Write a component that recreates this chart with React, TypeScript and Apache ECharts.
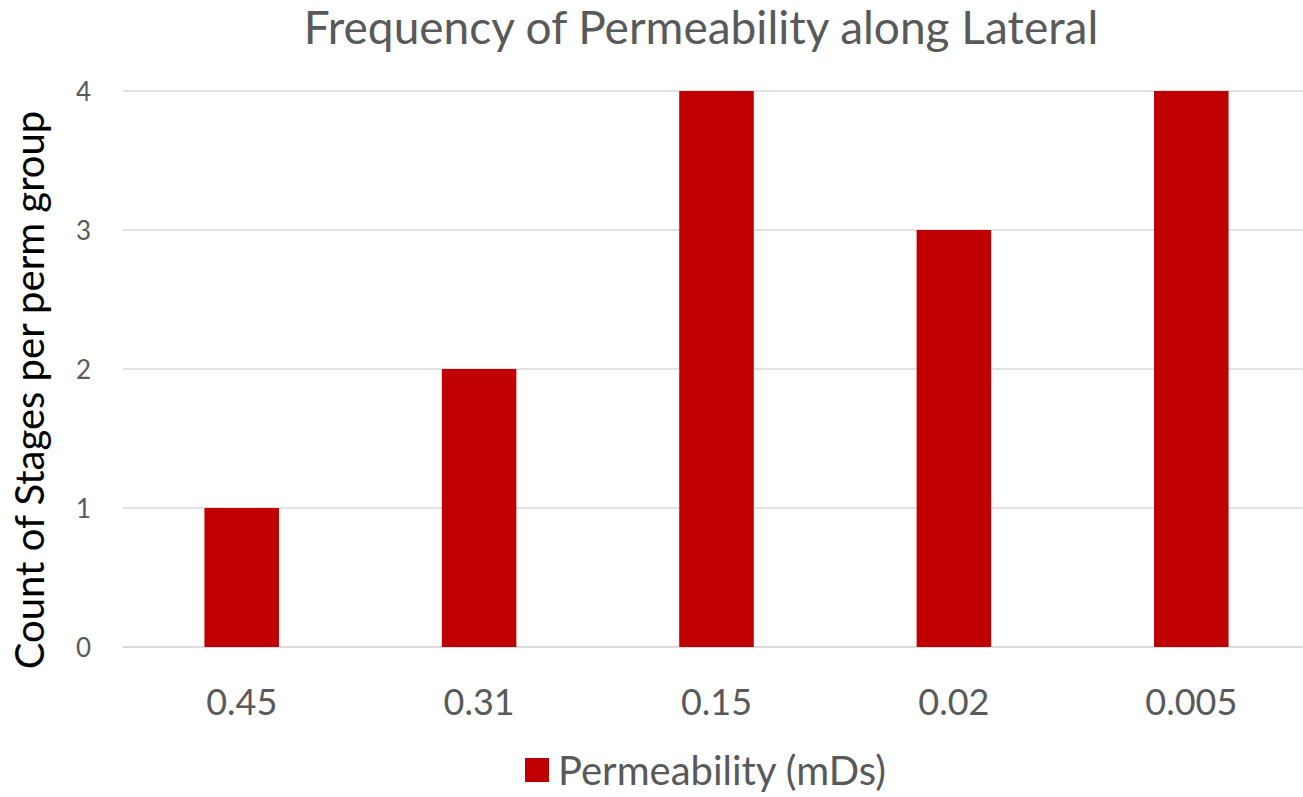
import React, { useEffect, useRef } from "react";
import * as echarts from "echarts";

const categories = ["0.45", "0.31", "0.15", "0.02", "0.005"];
const counts = [1, 2, 4, 3, 4];
const seriesName = "Permeability (mDs)";
const titleText = "Frequency of Permeability along Lateral";
const yAxisName = "Count of Stages per perm group";

export default function App() {
  const ref = useRef<HTMLDivElement>(null);
  useEffect(() => {
    if (!ref.current) return;
    const chart = echarts.init(ref.current, undefined, { renderer: "svg" });
    const font = "Lato, 'Open Sans', sans-serif";
    chart.setOption({
      animation: false,
      backgroundColor: "#ffffff",
      textStyle: { fontFamily: font },
      title: {
        text: titleText,
        left: 696,
        textAlign: "center",
        top: -2,
        textStyle: { fontFamily: font, fontSize: 46, fontWeight: "normal", color: "#595959" },
      },
      legend: {
        data: [seriesName],
        bottom: 2,
        left: 520,
        itemWidth: 24,
        itemHeight: 24,
        itemGap: 10,
        icon: "rect",
        textStyle: { fontFamily: font, fontSize: 40, color: "#595959", padding: [0, 0, 0, 4] },
      },
      grid: { left: 123, top: 91, width: 1187, height: 556, containLabel: false },
      xAxis: {
        type: "category",
        data: categories,
        axisLine: { lineStyle: { color: "#d9d9d9", width: 1.5 } },
        axisTick: { show: false },
        axisLabel: { fontFamily: font, fontSize: 36, color: "#595959", margin: 36 },
      },
      yAxis: {
        type: "value",
        min: 0,
        max: 4,
        interval: 1,
        name: yAxisName,
        nameLocation: "middle",
        nameGap: 74,
        nameTextStyle: { fontFamily: font, fontSize: 40, color: "#000000", padding: [0, 42, 0, 0] },
        axisLine: { show: false },
        axisTick: { show: false },
        axisLabel: { fontFamily: font, fontSize: 26, color: "#595959", margin: 32 },
        splitLine: { lineStyle: { color: "#d9d9d9", width: 1.5 } },
      },
      series: [
        {
          name: seriesName,
          type: "bar",
          data: counts,
          barWidth: "31.4%",
          itemStyle: { color: "#c00000" },
        },
      ],
    });
    return () => chart.dispose();
  }, []);
  return (
    <div style={{ position: "fixed", left: 0, top: 0, width: 1303, height: 797, overflow: "hidden", background: "#fff" }}>
      <div ref={ref} style={{ width: 1320, height: 797 }} />
    </div>
  );
}
